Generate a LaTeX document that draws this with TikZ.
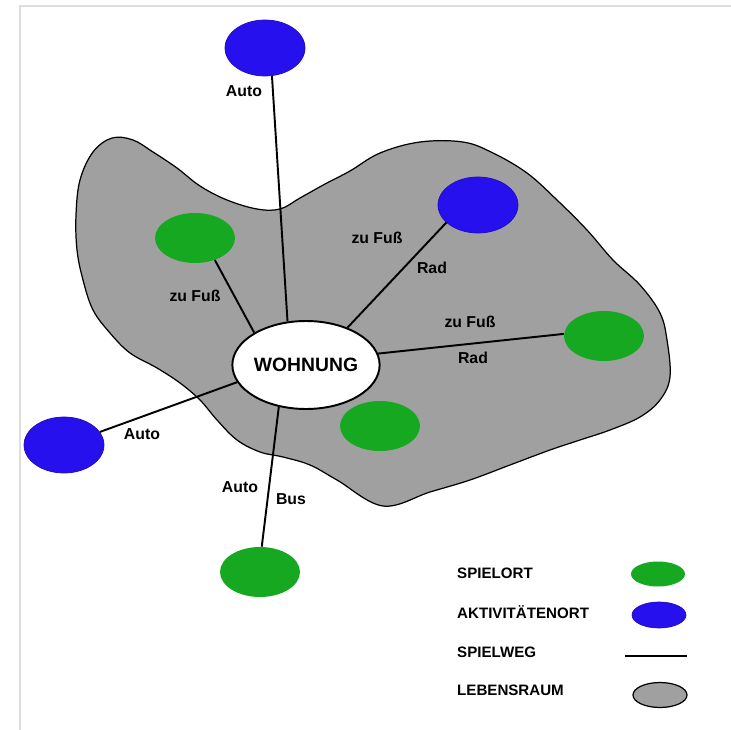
\documentclass[tikz,border=0pt]{standalone}
\usepackage{fontspec}
\setmainfont{Liberation Sans}
\usetikzlibrary{shapes.geometric}

\definecolor{ortgreen}{RGB}{22,168,32}
\definecolor{ortblue}{RGB}{38,16,238}
\definecolor{raumgray}{RGB}{160,160,160}
\definecolor{framegray}{RGB}{222,222,222}

\begin{document}
\begin{tikzpicture}[x=0.02cm, y=-0.02cm,
    spielort/.style={ellipse, fill=ortgreen, inner sep=0pt, minimum width=1.6cm, minimum height=1.0cm},
    aktort/.style={ellipse, fill=ortblue, draw=ortblue!80!black, inner sep=0pt, minimum width=1.6cm, minimum height=1.12cm},
    weg/.style={line width=1.1pt},
    wegtext/.style={font=\bfseries\fontsize{9}{10}\selectfont},
    legtext/.style={font=\bfseries\fontsize{8.6}{10}\selectfont, anchor=west}]

            \useasboundingbox (0,0) rectangle (731,730);

            \coordinate (frametr) at (731, 6);
            \coordinate (frametl) at (20, 6);
            \coordinate (framebl) at (20, 730);
            \draw[framegray, line width=1.1pt] (frametr) -- (frametl) -- (framebl);

            % lebensraum
            \draw[fill=raumgray, line width=0.7pt] plot[smooth cycle, tension=0.6] coordinates {
                (112,138) (133,140) (153,152) (177,168) (200,186) (227,200) (257,209)
                (280,209) (300,198) (325,184) (350,171) (380,153) (420,142) (463,142)
                (493,153) (527,173) (557,200) (587,230) (613,260) (640,285) (660,313)
                (667,340) (670,377) (660,400) (640,417) (610,430) (580,440) (550,450)
                (510,465) (470,480) (430,492) (383,506) (337,480) (310,465) (283,457)
                (260,452) (237,440) (217,420) (200,400) (180,383) (157,368) (130,353)
                (110,333) (93,310) (83,280) (77,250) (76,215) (80,180) (93,152)};

            \node[ellipse, draw, fill=white, line width=1.1pt, inner sep=0pt,
                  minimum width=2.92cm, minimum height=1.76cm,
                  font=\bfseries\fontsize{11}{12}\selectfont] (wohnung) at (306,365) {WOHNUNG};

            \node[aktort] (aktN) at (265,48) {};
            \node[spielort] (spielNW) at (195,238) {};
            \node[aktort] (aktNE) at (478,205) {};
            \node[spielort] (spielE) at (604,336) {};
            \node[spielort] (spielSE) at (380,426) {};
            \node[aktort] (aktW) at (64,445) {};
            \node[spielort] (spielS) at (260,572) {};

            \draw[weg] (wohnung.113) -- (aktN.284);
            \draw[weg] (wohnung.148) -- (spielNW.312);
            \draw[weg] (wohnung.42) -- (aktNE.209);
            \draw[weg] (wohnung.9) -- (spielE.177);
            \draw[weg] (wohnung.194) -- (aktW.20);
            \draw[weg] (wohnung.237) -- (spielS.86);

            \node[wegtext] (autoN) at (244,91) {Auto};
            \node[wegtext] (fussNW) at (195,296) {zu Fuß};
            \node[wegtext] (fussNE) at (377,238) {zu Fuß};
            \node[wegtext] (radNE) at (432,268) {Rad};
            \node[wegtext] (fussE) at (470,322) {zu Fuß};
            \node[wegtext] (radE) at (473,358) {Rad};
            \node[wegtext] (autoW) at (142,434) {Auto};
            \node[wegtext] (autoS) at (240,487) {Auto};
            \node[wegtext] (busS) at (291,499) {Bus};

            % legende
            \node[legtext] (legspiel) at (451,573) {SPIELORT};
            \node[legtext] (legakt) at (451,612) {AKTIVITÄTENORT};
            \node[legtext] (legweg) at (451,652) {SPIELWEG};
            \node[legtext] (legraum) at (451,690) {LEBENSRAUM};

            \node[spielort, minimum width=1.08cm, minimum height=0.5cm] (symspiel) at (658,574) {};
            \node[aktort, minimum width=1.08cm, minimum height=0.52cm] (symakt) at (659,615) {};
            \coordinate (symwegl) at (625,656);
            \coordinate (symwegr) at (687,656);
            \draw[line width=1.6pt] (symwegl) -- (symwegr);
            \node[ellipse, draw, fill=raumgray, line width=0.7pt, inner sep=0pt,
                  minimum width=1.08cm, minimum height=0.5cm] (symraum) at (660,695) {};

\end{tikzpicture}
\end{document}
